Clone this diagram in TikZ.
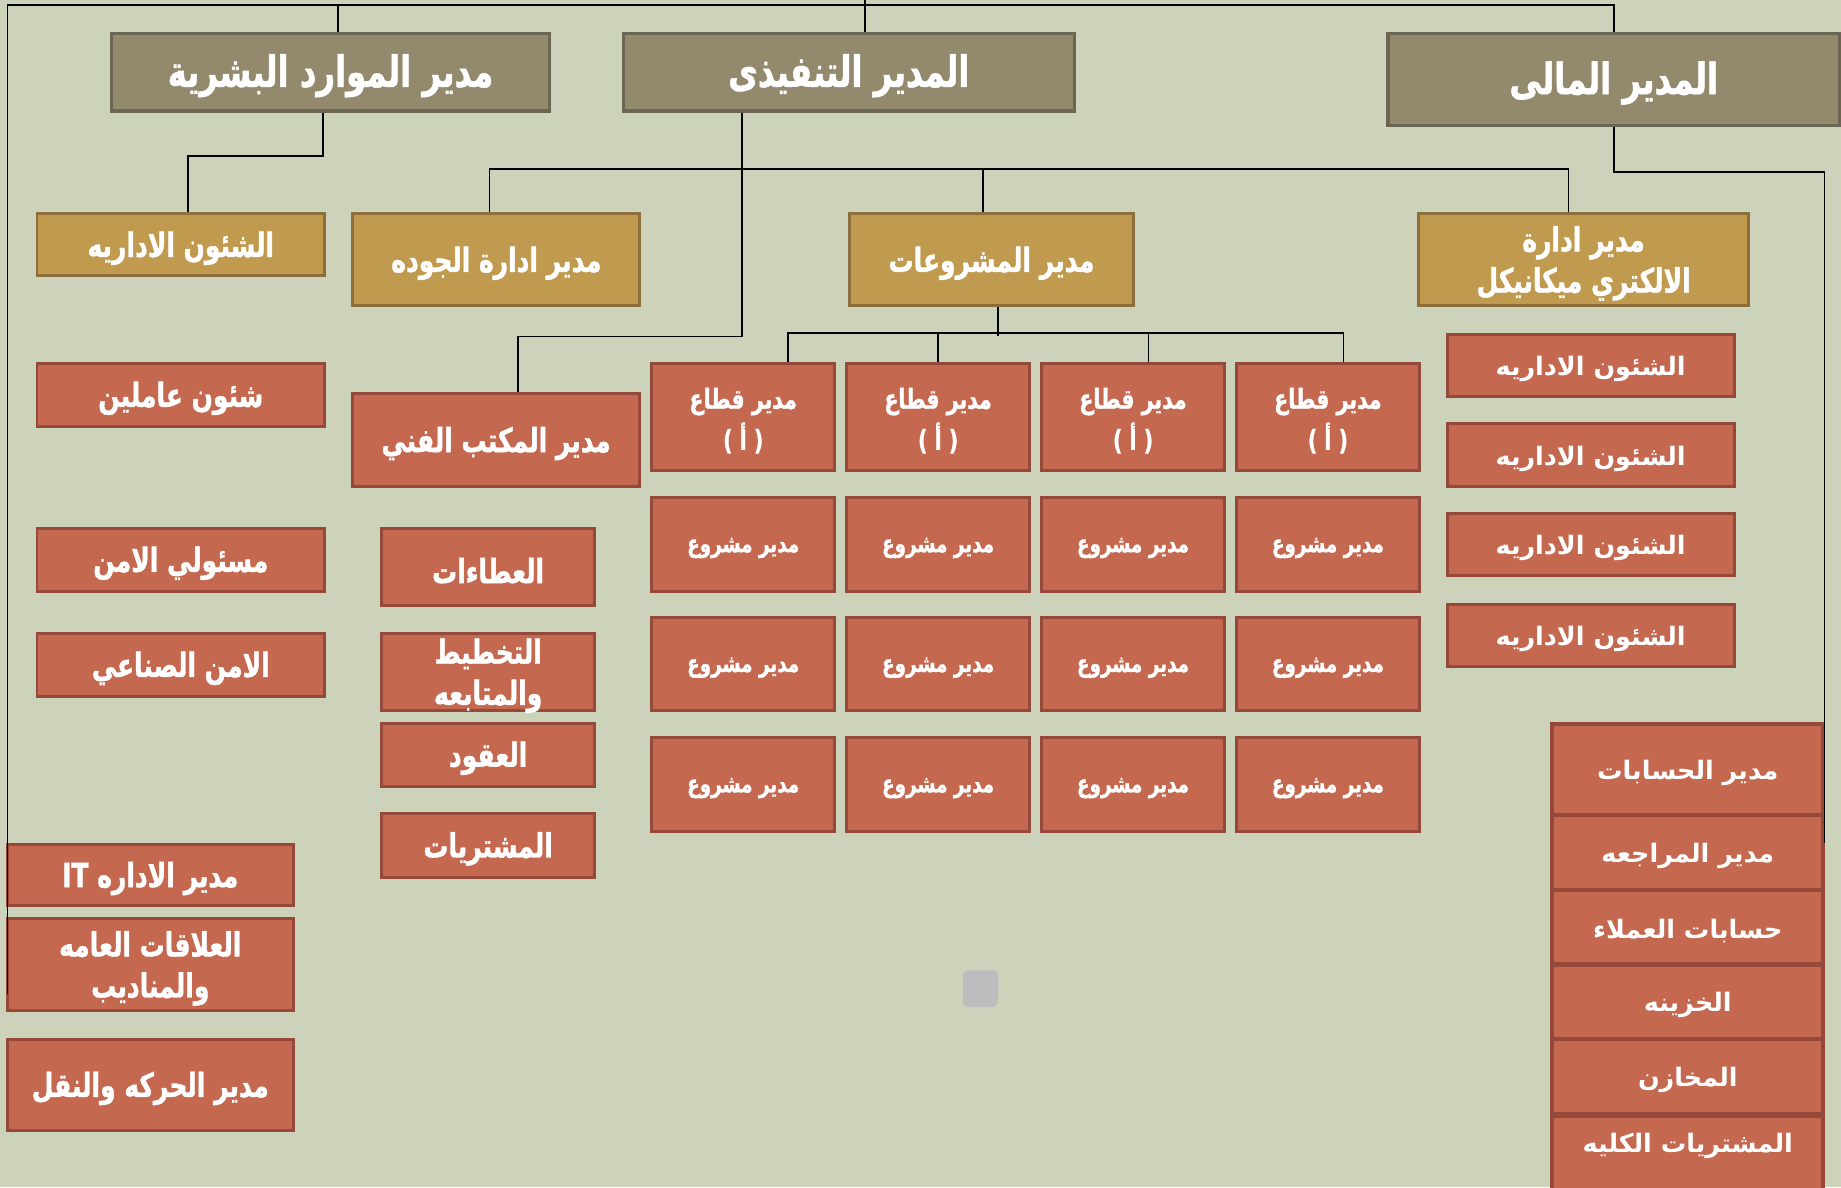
\documentclass[tikz,border=0pt]{standalone}
\usepackage{fontspec}
\TeXXeTstate=1
\newfontfamily\arb[Script=Arabic,FakeStretch=0.75,BoldFeatures={FakeBold=1.2}]{DejaVu Sans}
\newfontfamily\arbw[Script=Arabic]{DejaVu Sans}
\definecolor{bgc}{RGB}{205,211,187}
\definecolor{greyfill}{RGB}{147,138,110}
\definecolor{greyline}{RGB}{107,102,81}
\definecolor{mustfill}{RGB}{192,154,78}
\definecolor{mustline}{RGB}{142,110,58}
\definecolor{redfill}{RGB}{196,104,79}
\definecolor{redline}{RGB}{148,73,58}
\definecolor{squarec}{RGB}{189,189,192}
\tikzset{
  base/.style={rectangle, inner sep=0pt, align=center, text=white},
  greybox/.style={base, fill=greyfill, draw=greyline, line width=1.8pt, font=\arb\bfseries\fontsize{22}{26}\selectfont},
  mustbox/.style={base, fill=mustfill, draw=mustline, line width=1.5pt, font=\arb\bfseries\fontsize{17}{21}\selectfont},
  redbox/.style={base, fill=redfill, draw=redline, line width=1.5pt, font=\arb\bfseries\fontsize{17}{21}\selectfont},
  sectbox/.style={redbox, font=\arb\bfseries\fontsize{14}{18}\selectfont},
  redsmall/.style={redbox, font=\arb\bfseries\fontsize{12.5}{15}\selectfont},
  redwide/.style={redbox, font=\arbw\bfseries\fontsize{13}{16}\selectfont},
  stackbox/.style={redbox, line width=2.1pt, font=\arbw\bfseries\fontsize{13}{16}\selectfont},
  conn/.style={draw=black, line width=0.8pt}
}
% box node (#6) plus its text node (#6t), text lowered slightly
\newcommand\bx[7]{%
  \node[#1, minimum width={(#4-#2)*0.6pt}, minimum height={(#5-#3)*0.6pt}] (#6) at ({(#2+#4)/2},{(#3+#5)/2}) {};
  \node[#1, draw=none, fill=none, minimum width=0pt, minimum height=0pt, yshift=-1.8pt] (#6t) at (#6.center) {#7};}
\begin{document}
\begin{tikzpicture}[x=0.6pt,y=-0.6pt]
\useasboundingbox (0,0) rectangle (1568,1011);
\fill[bgc] (0,0) rectangle (1568,1011);
\clip (0,0) rectangle (1568,1011);

% top level
\bx{greybox}{95}{28.4}{468}{94.5}{hr}{\beginR مدير الموارد البشرية\endR}
\bx{greybox}{531}{28.4}{915}{94.5}{ex}{\beginR المدير التنفيذى\endR}
\bx{greybox}{1182}{28.4}{1567}{107}{fin}{\beginR المدير المالى\endR}

% second level
\bx{mustbox}{31.5}{182}{276.5}{235}{hradm}{\beginR الشئون الاداريه\endR}
\bx{mustbox}{300.5}{182}{545}{260.5}{qual}{\beginR مدير ادارة الجوده\endR}
\bx{mustbox}{723.5}{182}{965.5}{260.5}{proj}{\beginR مدير المشروعات\endR}
\bx{mustbox}{1208}{182}{1489.5}{260.5}{em}{\beginR مدير ادارة\endR\\[0pt]\beginR الالكتري ميكانيكل\endR}

% HR column
\bx{redbox}{31.5}{309.5}{276.5}{363}{hr1}{\beginR شئون عاملين\endR}
\bx{redbox}{31.5}{450}{276.5}{503.5}{hr2}{\beginR مسئولي الامن\endR}
\bx{redbox}{31.5}{539.5}{276.5}{593}{hr3}{\beginR الامن الصناعي\endR}
\bx{redbox}{6}{719}{250}{771.5}{hr4}{\beginR مدير الاداره \beginL IT\endL\endR}
\bx{redbox}{6}{782.5}{250}{861}{hr5}{\beginR العلاقات العامه\endR\\[0pt]\beginR والمناديب\endR}
\bx{redbox}{6}{885}{250}{963}{hr6}{\beginR مدير الحركه والنقل\endR}

% technical office
\bx{redbox}{300}{335.5}{545}{414}{tech}{\beginR مدير المكتب الفني\endR}
\bx{redbox}{325}{450}{506.5}{516}{t1}{\beginR العطاءات\endR}
\bx{redbox}{325}{539.5}{506.5}{605.5}{t2}{\beginR التخطيط\endR\\[0pt]\beginR والمتابعه\endR}
\bx{redbox}{325}{616}{506.5}{669.5}{t3}{\beginR العقود\endR}
\bx{redbox}{325}{693}{506.5}{747}{t4}{\beginR المشتريات\endR}

% sectors and projects
\foreach \x [count=\i] in {555,721,887,1053} {
  \bx{sectbox}{\x}{309.5}{\x+156}{401}{s\i}{\beginR مدير قطاع\endR\\[3pt]\beginR ( أ )\endR}
  \foreach \ya/\yb [count=\j] in {424/503.5,526/605.5,628.5/708} {
    \bx{redsmall}{\x}{\ya}{\x+156}{\yb}{p\i\j}{\beginR مدير مشروع\endR}
  }
}

% electro-mechanical column
\foreach \ya/\yb [count=\i] in {284.5/337.5,361/414,437.5/490.5,514.5/567.5} {
  \bx{redwide}{1232.5}{\ya}{1477}{\yb}{e\i}{\beginR الشئون الاداريه\endR}
}

% finance stack
\bx{stackbox}{1322}{616.5}{1553}{694}{f1}{\beginR مدير الحسابات\endR}
\bx{stackbox}{1322}{694}{1553}{758}{f2}{\beginR مدير المراجعه\endR}
\bx{stackbox}{1322}{758}{1553}{821.5}{f3}{\beginR حسابات العملاء\endR}
\bx{stackbox}{1322}{821.5}{1553}{885}{f4}{\beginR الخزينه\endR}
\bx{stackbox}{1322}{885}{1553}{949}{f5}{\beginR المخازن\endR}
\node[stackbox, minimum width={231*0.6pt}, minimum height={76*0.6pt}, anchor=north] (f6) at (1437.5,949) {};
\node[text=white, font=\arbw\bfseries\fontsize{13}{16}\selectfont] (f6t) at (1437.5,976) {\beginR المشتريات الكليه\endR};

% grey square
\node[rectangle, rounded corners=2.5pt, fill=squarec, minimum width={30*0.6pt}, minimum height={31*0.6pt}, inner sep=0pt] (sq) at (835,842) {};

% connectors
\coordinate (tl) at (6.5,4.3);
\coordinate (ltend) at (6.5,847);
\coordinate (extop) at (736.5,-1);
\coordinate (finend) at (1554,718);
\draw[conn] (ltend) -- (tl) -| (fin.north);
\draw[conn] ([xshift=3.9pt]hr.north) -- ([xshift=3.9pt]hr.north |- tl);
\draw[conn] (extop) -- (extop |- ex.north);
\draw[conn] ([xshift=-3.9pt]hr.south) -- ++(0,37) -| ([xshift=3.6pt]hradm.north);
\draw[conn] ([xshift=-54.6pt]ex.south) -- ++(0,190.5) -| ([xshift=11.2pt]tech.north);
\draw[conn] ([xshift=-3.5pt]qual.north) -- ++(0,-37) -| ([xshift=-7.65pt]em.north);
\draw[conn] ([xshift=-4.5pt]proj.north) -- ++(0,-37);
\draw[conn] (fin.south) -- ++(0,38) -| (finend);
\draw[conn] ([xshift=3.3pt]proj.south) -- ++(0,24.5);
\draw[conn] ([xshift=23pt]s1.north) -- ++(0,-24.5) -| ([xshift=8pt]s4.north);
\draw[conn] (s2.north) -- ++(0,-24.5);
\draw[conn] ([xshift=7.95pt]s3.north) -- ++(0,-24.5);
\end{tikzpicture}
\end{document}
